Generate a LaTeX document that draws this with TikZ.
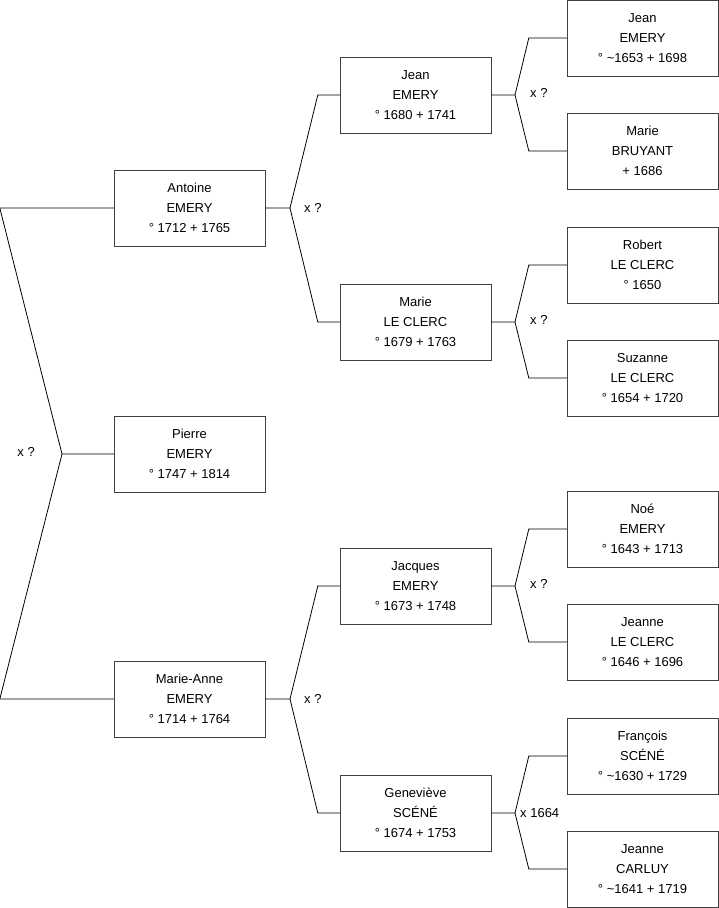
\documentclass[tikz,border=0pt]{standalone}
\usepackage{fontspec}
\setmainfont{Liberation Sans}
\usepackage{tikz}

\begin{document}
\begin{tikzpicture}[x=1pt, y=-1pt,
  person/.style={draw=black!75, align=center, minimum width=151pt,
                 minimum height=76pt, inner sep=0pt,
                 font=\fontsize{13}{20}\selectfont},
  lab/.style={font=\fontsize{13}{15}\selectfont, inner sep=0pt},
  link/.style={draw=black, line width=0.8pt}]
  \useasboundingbox (0,0) rectangle (719,908);
  % generation 1
  \node[person] (pierre) at (189.5,454) {Pierre\\EMERY\\° 1747 + 1814};
  % generation 2
  \node[person] (antoine) at (189.5,208) {Antoine\\EMERY\\° 1712 + 1765};
  \node[person] (marieanne) at (189.5,699) {Marie-Anne\\EMERY\\° 1714 + 1764};
  % generation 3
  \node[person] (jean) at (415.5,95) {Jean\\EMERY\\° 1680 + 1741};
  \node[person] (marie) at (415.5,322) {Marie\\LE CLERC\\° 1679 + 1763};
  \node[person] (jacques) at (415.5,586) {Jacques\\EMERY\\° 1673 + 1748};
  \node[person] (genevieve) at (415.5,813) {Geneviève\\SCÉNÉ\\° 1674 + 1753};
  % generation 4
  \node[person] (jeanB) at (642.5,38) {Jean\\EMERY\\° \textasciitilde1653 + 1698};
  \node[person] (bruyant) at (642.5,151) {Marie\\BRUYANT\\+ 1686};
  \node[person] (robert) at (642.5,265) {Robert\\LE CLERC\\° 1650};
  \node[person] (suzanne) at (642.5,378) {Suzanne\\LE CLERC\\° 1654 + 1720};
  \node[person] (noe) at (642.5,529) {Noé\\EMERY\\° 1643 + 1713};
  \node[person] (jeanne) at (642.5,642) {Jeanne\\LE CLERC\\° 1646 + 1696};
  \node[person] (francois) at (642.5,756) {François\\SCÉNÉ\\° \textasciitilde1630 + 1729};
  \node[person] (carluy) at (642.5,869) {Jeanne\\CARLUY\\° \textasciitilde1641 + 1719};
  % marriage points
  \coordinate (m0) at (62,454);
  \coordinate (m1) at (290,208);
  \coordinate (m2) at (290,699);
  \coordinate (m3) at (515,95);
  \coordinate (m4) at (515,322);
  \coordinate (m5) at (515,586);
  \coordinate (m6) at (515,813);
  \node[lab, anchor=east] (x0) at ([xshift=-27pt,yshift=2pt]m0) {x ?};
  \node[lab, anchor=west] (x1) at ([xshift=14pt]m1) {x ?};
  \node[lab, anchor=west] (x2) at ([xshift=14pt]m2) {x ?};
  \node[lab, anchor=west] (x3) at ([xshift=15pt,yshift=2pt]m3) {x ?};
  \node[lab, anchor=west] (x4) at ([xshift=15pt,yshift=2pt]m4) {x ?};
  \node[lab, anchor=west] (x5) at ([xshift=15pt,yshift=2pt]m5) {x ?};
  \node[lab, anchor=west] (x6) at ([xshift=5pt]m6) {x 1664};
  % links
  \draw[link] (pierre.west) -- (m0) -- ([xshift=-114pt]antoine.west) -- (antoine.west);
  \draw[link] (m0) -- ([xshift=-114pt]marieanne.west) -- (marieanne.west);
  \draw[link] (antoine.east) -- (m1) -- ([xshift=-22pt]jean.west) -- (jean.west);
  \draw[link] (m1) -- ([xshift=-22pt]marie.west) -- (marie.west);
  \draw[link] (marieanne.east) -- (m2) -- ([xshift=-22pt]jacques.west) -- (jacques.west);
  \draw[link] (m2) -- ([xshift=-22pt]genevieve.west) -- (genevieve.west);
  \draw[link] (jean.east) -- (m3) -- ([xshift=-38pt]jeanB.west) -- (jeanB.west);
  \draw[link] (m3) -- ([xshift=-38pt]bruyant.west) -- (bruyant.west);
  \draw[link] (marie.east) -- (m4) -- ([xshift=-38pt]robert.west) -- (robert.west);
  \draw[link] (m4) -- ([xshift=-38pt]suzanne.west) -- (suzanne.west);
  \draw[link] (jacques.east) -- (m5) -- ([xshift=-38pt]noe.west) -- (noe.west);
  \draw[link] (m5) -- ([xshift=-38pt]jeanne.west) -- (jeanne.west);
  \draw[link] (genevieve.east) -- (m6) -- ([xshift=-38pt]francois.west) -- (francois.west);
  \draw[link] (m6) -- ([xshift=-38pt]carluy.west) -- (carluy.west);
\end{tikzpicture}
\end{document}
